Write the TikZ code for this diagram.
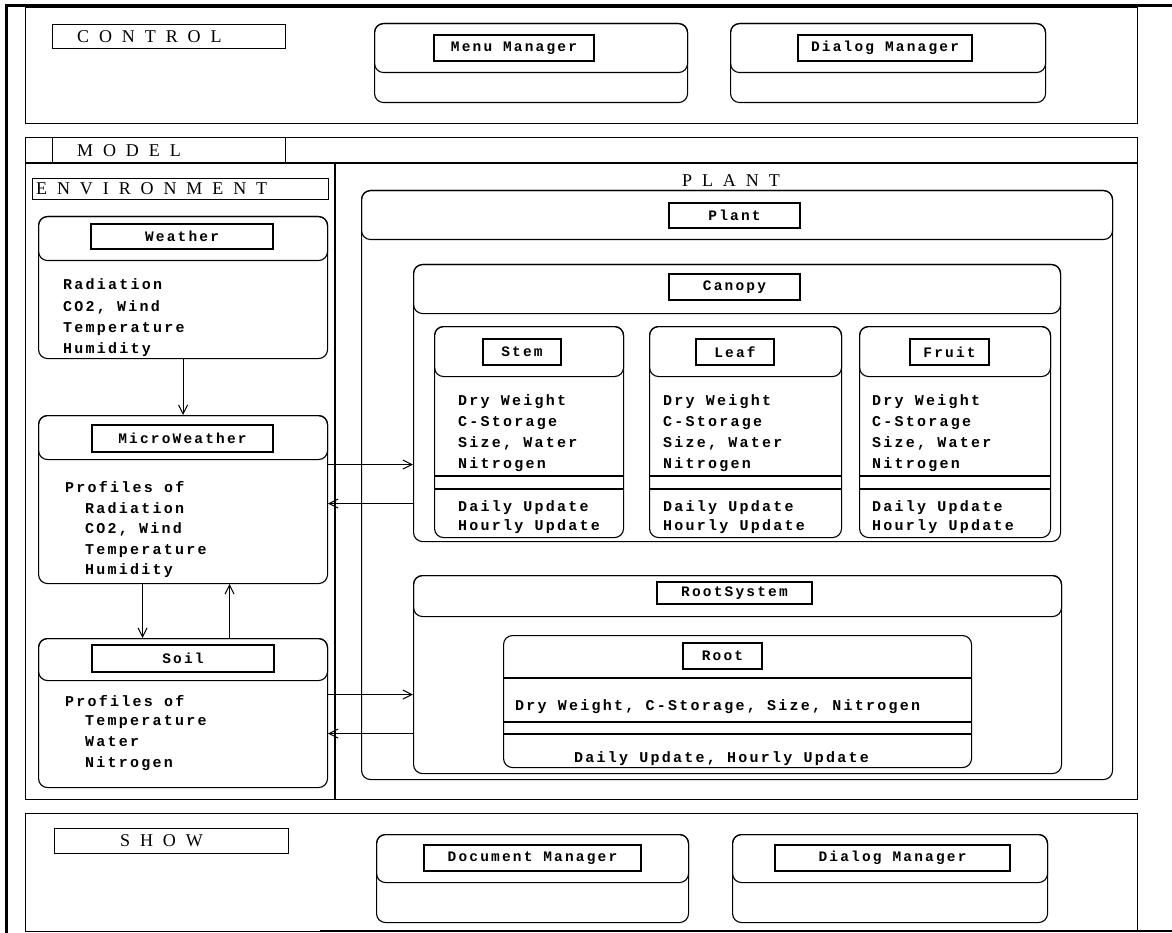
\documentclass[tikz,border=0pt]{standalone}
\usepackage{fontspec}
\usetikzlibrary{arrows.meta}
\newfontfamily\capfont[LetterSpace=55]{Liberation Serif}
\newfontfamily\dotfont[LetterSpace=15]{Liberation Mono}
\newcommand\cornerbox[6]{\node[#1, minimum width={(#5-#3)*1pt}, minimum height={(#6-#4)*1pt}] (#2) at (#3,#4) {};}
\newcommand\tagbox[6]{\node[namebox, minimum width={(#4-#2)*1pt}, minimum height={(#5-#3)*1pt}] (#1) at ({(#2+#4)/2},{(#3+#5)/2}) {#6};}
\newcommand\attrlines[5]{\foreach \txt [count=\k from 0] in {#5} {\node[attr] (#1\k) at (#2,{#3+#4*\k}) {\txt};}}
\tikzset{
  panel/.style={draw, line width=1.3pt, inner sep=0pt, anchor=north west},
  objbox/.style={draw, line width=1.1pt, rounded corners=9pt, inner sep=0pt, anchor=north west},
  namebox/.style={draw, line width=1.4pt, inner sep=0pt, font=\dotfont\bfseries\fontsize{14.5}{16}\selectfont},
  caption/.style={inner sep=0pt, anchor=base west, font=\capfont\fontsize{18}{20}\selectfont},
  attr/.style={inner sep=0pt, anchor=base west, font=\dotfont\bfseries\fontsize{15}{18}\selectfont},
  link/.style={->, line width=1pt},
}
\begin{document}
\begin{tikzpicture}[x=1pt, y=-1pt, >={Straight Barb[length=9pt,width=9pt]}]
\useasboundingbox (0,0) rectangle (1172,933);
\draw[line width=3pt] (6,933) -- (6,6) -- (1172,6);
\draw[line width=2.5pt] (320,931) -- (1172,931);

% control
\cornerbox{panel}{control}{25}{7}{1137}{123}
\cornerbox{panel}{controltab}{52}{24}{285}{48}
\node[caption] (controltxt) at (77,42.5) {CONTROL};
\cornerbox{objbox}{menu}{374}{23}{687}{102}
\cornerbox{objbox}{menu-head}{374}{23}{687}{72}
\tagbox{menu-tag}{434}{35}{594}{61}{Menu Manager}
\cornerbox{objbox}{dlg}{730}{23}{1045}{102}
\cornerbox{objbox}{dlg-head}{730}{23}{1045}{72}
\tagbox{dlg-tag}{798}{35}{972}{61}{Dialog Manager}

% model
\cornerbox{panel}{model}{25}{137}{1137}{799}
\draw[line width=1.3pt] (model.west |- 0,163) -- (model.east |- 0,163);
\cornerbox{panel}{modeltab}{52}{137}{285}{163}
\node[caption] (modeltxt) at (77,156.5) {MODEL};
\draw[line width=1.1pt] (335,163) -- (model.south -| 335,0);
\cornerbox{panel}{envtab}{32}{178}{328}{199}
\node[caption] (envtxt) at (36,195) {ENVIRONMENT};
\node[caption] (planttxt) at (682,187) {PLANT};

% environment
\cornerbox{objbox}{weather}{38}{216}{327}{358}
\cornerbox{objbox}{weather-head}{38}{216}{327}{260}
\tagbox{weather-tag}{91}{224}{273}{249}{Weather}
\attrlines{weather-a}{63}{290}{21}{Radiation,{CO2, Wind},Temperature,Humidity}

\cornerbox{objbox}{micro}{38}{415}{327}{583}
\cornerbox{objbox}{micro-head}{38}{415}{327}{459}
\tagbox{micro-tag}{92}{425}{273}{452}{MicroWeather}
\node[attr] (micro-p) at (65,492) {Profiles of};
\attrlines{micro-a}{85}{513}{20.5}{Radiation,{CO2, Wind},Temperature,Humidity}

\cornerbox{objbox}{soil}{38}{638}{327}{787}
\cornerbox{objbox}{soil-head}{38}{638}{327}{680}
\tagbox{soil-tag}{92}{645}{274}{672}{Soil}
\node[attr] (soil-p) at (65,706) {Profiles of};
\attrlines{soil-a}{85}{725}{21}{Temperature,Water,Nitrogen}

% plant
\cornerbox{objbox}{plant}{361}{190}{1112}{779}
\cornerbox{objbox}{plant-head}{361}{190}{1112}{239}
\tagbox{plant-tag}{669}{203}{800}{228}{Plant}

\cornerbox{objbox}{canopy}{413}{264}{1060}{541}
\cornerbox{objbox}{canopy-head}{413}{264}{1060}{313}
\tagbox{canopy-tag}{669}{274}{800}{300}{Canopy}

\foreach \nm/\lbl/\xa/\xb/\ta/\tb/\tx in {stem/Stem/434/623/483/561/458, leaf/Leaf/649/841/696/774/663, fruit/Fruit/859/1050/910/989/872} {
  \cornerbox{objbox}{\nm}{\xa}{326}{\xb}{537}
  \cornerbox{objbox}{\nm-head}{\xa}{326}{\xb}{376}
  \tagbox{\nm-tag}{\ta}{339}{\tb}{365}{\lbl}
  \draw[line width=1.1pt] (\nm.west |- 0,476) -- (\nm.east |- 0,476) (\nm.west |- 0,489) -- (\nm.east |- 0,489);
  \attrlines{\nm-a}{\tx}{405}{21}{Dry Weight,C-Storage,{Size, Water},Nitrogen}
  \attrlines{\nm-u}{\tx}{511}{19}{Daily Update,Hourly Update}
}

\cornerbox{objbox}{rootsys}{413}{575}{1061}{773}
\cornerbox{objbox}{rootsys-head}{413}{575}{1061}{616}
\tagbox{rootsys-tag}{657}{582}{812}{604}{RootSystem}
\cornerbox{objbox}{root}{503}{635}{971}{767}
\draw[line width=1.1pt] (root.west |- 0,678) -- (root.east |- 0,678) (root.west |- 0,722) -- (root.east |- 0,722) (root.west |- 0,734) -- (root.east |- 0,734);
\tagbox{root-tag}{683}{643}{762}{669}{Root}
\node[attr] (root-a) at (515,710) {Dry Weight, C-Storage, Size, Nitrogen};
\node[attr] (root-u) at (574,762) {Daily Update, Hourly Update};

% links
\draw[link] (weather.south) -- (micro.north);
\coordinate (ms-down) at ([xshift=-40.5pt]micro.south);
\draw[link] (ms-down) -- (ms-down |- soil.north);
\coordinate (ms-up) at ([xshift=46.5pt]soil.north);
\draw[link] (ms-up) -- (ms-up |- micro.south);
\coordinate (mw-out) at ([yshift=35pt]micro.east);
\draw[link] (mw-out) -- (mw-out -| canopy.west);
\coordinate (mw-in) at ([yshift=-4pt]micro.east);
\draw[link] (mw-in -| canopy.west) -- (mw-in);
\coordinate (so-out) at ([yshift=18.5pt]soil.east);
\draw[link] (so-out) -- (so-out -| rootsys.west);
\coordinate (so-in) at ([yshift=-20.5pt]soil.east);
\draw[link] (so-in -| rootsys.west) -- (so-in);

% show
\cornerbox{panel}{show}{25}{813}{1137}{931}
\cornerbox{panel}{showtab}{54}{828}{288}{853}
\node[caption] (showtxt) at (120,846.5) {SHOW};
\cornerbox{objbox}{doc}{376}{834}{688}{922}
\cornerbox{objbox}{doc-head}{376}{834}{688}{882}
\tagbox{doc-tag}{424}{845}{641}{871}{Document Manager}
\cornerbox{objbox}{dlg2}{732}{834}{1047}{922}
\cornerbox{objbox}{dlg2-head}{732}{834}{1047}{882}
\tagbox{dlg2-tag}{775}{845}{1010}{871}{Dialog Manager}
\end{tikzpicture}
\end{document}
